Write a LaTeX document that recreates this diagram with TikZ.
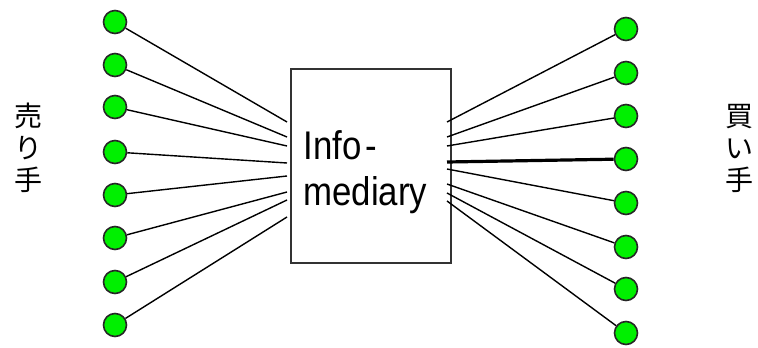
\documentclass[tikz,border=0pt]{standalone}
\usepackage{fontspec}
\setmainfont{Liberation Sans}
\newfontfamily\boxfont[FakeStretch=0.87]{Liberation Sans}
\newfontfamily\jpfont{Noto Sans CJK JP}
\usetikzlibrary{calc}
\definecolor{dotgreen}{RGB}{0,240,0}
\tikzset{
  party/.style={circle,draw=black!85,line width=0.8pt,fill=dotgreen,
    minimum size=11.5pt,inner sep=0pt},
  link/.style={line width=0.7pt},
  boldlink/.style={line width=1.6pt},
  boxtext/.style={anchor=base west,font=\boxfont\fontsize{20pt}{24pt}\selectfont,
    inner sep=0pt},
  sidetext/.style={align=center,font=\jpfont\fontsize{14pt}{16pt}\selectfont,
    inner sep=0pt},
}

\begin{document}
\begin{tikzpicture}[x=0.5pt,y=-0.5pt]
    \useasboundingbox (0,0) rectangle (758,347);
    % intermediary box
    \node [draw=black!80,line width=0.8pt,minimum width=80pt,minimum height=97pt,
      inner sep=0pt] (im) at (371,166) {};
    \node [boxtext] (info) at (303,160) {Info\kern2pt-};
    \node [boxtext] (mediary) at (303,205) {mediary};
    % sellers
    \node [party] (S1) at (115,22) {};
    \node [party] (S2) at (115,65) {};
    \node [party] (S3) at (115,107) {};
    \node [party] (S4) at (115,152) {};
    \node [party] (S5) at (115,195) {};
    \node [party] (S6) at (115,238) {};
    \node [party] (S7) at (115,282) {};
    \node [party] (S8) at (115,325) {};
    % buyers
    \node [party] (B1) at (626,29) {};
    \node [party] (B2) at (626,73) {};
    \node [party] (B3) at (626,116) {};
    \node [party] (B4) at (626,159) {};
    \node [party] (B5) at (626,203) {};
    \node [party] (B6) at (626,247) {};
    \node [party] (B7) at (626,289) {};
    \node [party] (B8) at (626,333) {};
    % ends at the box
    \coordinate (L1) at (287,122);
    \coordinate (L2) at (287,137);
    \coordinate (L3) at (287,146);
    \coordinate (L4) at (287,163);
    \coordinate (L5) at (287,176);
    \coordinate (L6) at (287,192);
    \coordinate (L7) at (287,200);
    \coordinate (L8) at (287,217);
    \coordinate (R1) at (447,122);
    \coordinate (R2) at (447,137);
    \coordinate (R3) at (447,146);
    \coordinate (R4) at (447,162);
    \coordinate (R5) at (447,169);
    \coordinate (R6) at (447,184);
    \coordinate (R7) at (447,193);
    \coordinate (R8) at (447,201);
      \draw [link] (S1) -- (L1);
      \draw [link] (S2) -- (L2);
      \draw [link] (S3) -- (L3);
      \draw [link] (S4) -- (L4);
      \draw [link] (S5) -- (L5);
      \draw [link] (S6) -- (L6);
      \draw [link] (S7) -- (L7);
      \draw [link] (S8) -- (L8);
      \draw [link] (R1) -- (B1);
      \draw [link] (R2) -- (B2);
      \draw [link] (R3) -- (B3);
      \draw [boldlink] (R4) -- (B4);
      \draw [link] (R5) -- (B5);
      \draw [link] (R6) -- (B6);
      \draw [link] (R7) -- (B7);
      \draw [link] (R8) -- (B8);
    % the two sides
    \node [sidetext] (sellers) at (28,148) {売\\り\\手};
    \node [sidetext] (buyers) at (739,148) {買\\い\\手};
  \end{tikzpicture}
\end{document}
